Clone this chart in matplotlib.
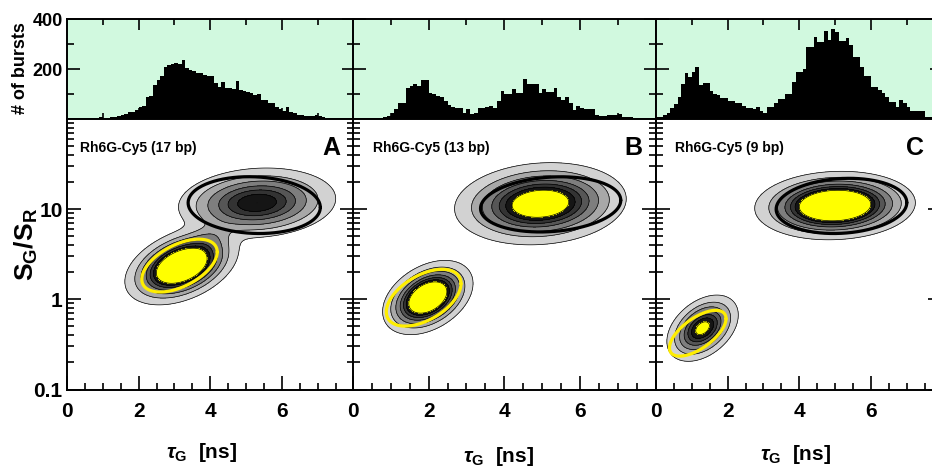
import numpy as np
import matplotlib
matplotlib.use("Agg")
import matplotlib.pyplot as plt
from matplotlib.ticker import MultipleLocator, FixedLocator, NullFormatter

plt.rcParams['font.family'] = ['Liberation Sans', 'DejaVu Sans']
plt.rcParams['font.weight'] = 'bold'
plt.rcParams['mathtext.fontset'] = 'custom'
plt.rcParams['mathtext.rm'] = 'Liberation Sans:bold'
plt.rcParams['mathtext.bf'] = 'Liberation Sans:bold'
plt.rcParams['mathtext.it'] = 'Liberation Sans:italic'

# burst lifetime histograms, 0.1 ns bins from 0 to 8 ns
tau_edges = np.round(np.arange(0, 8.05, 0.1), 2)

hist_A = [0, 0, 0, 0, 1, 1, 1, 2, 3, 6,
          3, 4, 6, 8, 12, 16, 20, 28, 30, 38,
          50, 52, 88, 92, 137, 157, 172, 210, 218, 221,
          226, 220, 237, 205, 198, 192, 186, 184, 178, 172,
          172, 145, 128, 150, 126, 124, 122, 154, 116, 114,
          108, 104, 98, 100, 78, 76, 64, 66, 50, 40,
          34, 48, 30, 24, 18, 15, 10, 10, 12, 16,
          10, 6, 4, 3, 2, 1, 1, 1, 0, 0]
hist_B = [2, 2, 2, 3, 3, 3, 4, 5, 8, 10,
          23, 39, 63, 63, 123, 133, 141, 134, 157, 157,
          103, 100, 92, 90, 72, 56, 47, 45, 43, 23,
          39, 20, 25, 43, 43, 48, 52, 43, 72, 114,
          100, 100, 119, 103, 103, 161, 141, 141, 141, 103,
          119, 110, 110, 123, 90, 76, 87, 63, 36, 52,
          43, 40, 40, 40, 16, 12, 12, 16, 16, 16,
          19, 9, 9, 9, 5, 3, 3, 2, 2, 1]
hist_C = [6, 8, 16, 25, 45, 60, 87, 141, 186, 170,
          190, 208, 137, 146, 143, 114, 100, 96, 83, 83,
          74, 74, 63, 63, 52, 43, 43, 39, 50, 34,
          25, 50, 47, 66, 80, 80, 100, 100, 150, 190,
          190, 200, 288, 288, 331, 307, 307, 355, 318, 362,
          351, 315, 315, 324, 298, 248, 248, 210, 173, 173,
          127, 127, 117, 103, 90, 70, 70, 50, 76, 66,
          47, 34, 34, 34, 34, 7, 7, 5, 4, 3]

# 2D burst populations: tau0, log10(SG/SR)0, sigma_tau, sigma_log, rho, peak
clusters_A = [(3.2, 0.37, 0.55, 0.150, 0.40, 50),
              (5.3, 1.07, 0.85, 0.150, 0.12, 22),
              (4.0, 0.68, 0.35, 0.100, 0.30, 3)]
clusters_B = [(1.98, 0.02, 0.42, 0.145, 0.38, 45),
              (4.95, 1.06, 0.83, 0.167, 0.12, 33)]
clusters_C = [(1.30, -0.32, 0.38, 0.140, 0.40, 25),
              (5.00, 1.04, 0.78, 0.132, 0.08, 50)]

# fitted population ellipses: tau0, log0, half-width tau, half-height log, tilt phase
yellow_ell = [(3.14, 0.374, 1.05, 0.293, 0.54),
              (1.87, 0.018, 0.985, 0.315, 0.52),
              (1.165, -0.376, 0.79, 0.254, 0.69)]
black_ell = [(5.22, 1.045, 1.84, 0.315, -0.08),
             (5.22, 1.053, 1.85, 0.306, 0.15),
             (5.18, 1.036, 1.825, 0.306, 0.12)]

titles = ["Rh6G-Cy5 (17 bp)", "Rh6G-Cy5 (13 bp)", "Rh6G-Cy5 (9 bp)"]
letters = ["A", "B", "C"]

levels = [0.8, 3, 6, 10, 14, 18, 22, 1e4]
fill_colors = ['#d2d2d2', '#a8a8a8', '#7e7e7e', '#565656', '#333333', '#151515', '#ffff00']
mint = '#d1f9df'


def density(clusters, T, S):
    Z = np.zeros_like(T)
    for t0, s0, st, ss, rho, amp in clusters:
        dx = (T - t0) / st
        dy = (S - s0) / ss
        q = (dx**2 - 2 * rho * dx * dy + dy**2) / (1 - rho**2)
        Z += amp * np.exp(-0.5 * q)
    return Z


def ellipse(ax, e, color):
    t0, s0, rt, rs, phi = e
    t = np.linspace(0, 2 * np.pi, 300)
    ax.plot(t0 + rt * np.cos(t), 10 ** (s0 + rs * np.sin(t + phi)),
            color=color, lw=2.3, solid_capstyle='round')


fig = plt.figure(figsize=(9.32, 4.69), dpi=100)

lefts = [0.0716, 0.3785, 0.7039]
widths = [0.3083, 0.3254, 0.3073]
hist_y, hist_h = 0.7463, 0.2125
main_y, main_h = 0.1695, 0.5768

tg = np.linspace(0, 8, 321)
sg = np.linspace(-1, 2, 301)
T, S = np.meshgrid(tg, sg)

all_hist = [hist_A, hist_B, hist_C]
all_clusters = [clusters_A, clusters_B, clusters_C]
title_x = [0.046, 0.067, 0.066]
letter_x = [0.92, 0.926, 0.904]

for i in range(3):
    # top: lifetime histogram
    axh = fig.add_axes([lefts[i], hist_y, widths[i], hist_h])
    axh.set_facecolor(mint)
    axh.bar(tau_edges[:-1], all_hist[i], width=0.1, align='edge', color='k', linewidth=0)
    axh.set_xlim(0, 8)
    axh.set_ylim(0, 400)
    axh.xaxis.set_major_locator(FixedLocator([2, 4, 6]))
    axh.xaxis.set_minor_locator(FixedLocator([1, 3, 5, 7]))
    axh.yaxis.set_major_locator(FixedLocator([200, 400]))
    axh.yaxis.set_minor_locator(FixedLocator([100, 300]))
    axh.tick_params(which='both', direction='in', top=True, bottom=True,
                    left=True, right=True, labelbottom=False, width=1.2)
    axh.tick_params(axis='x', which='major', length=8)
    axh.tick_params(axis='x', which='minor', length=4.5)
    axh.tick_params(axis='y', which='major', length=9)
    axh.tick_params(axis='y', which='minor', length=5)
    axh.tick_params(axis='y', labelsize=13, pad=3)
    if i > 0:
        axh.tick_params(labelleft=False)
    for sp in axh.spines.values():
        sp.set_linewidth(1.4)

    # bottom: SG/SR versus tau_G contour map
    ax = fig.add_axes([lefts[i], main_y, widths[i], main_h])
    Z = density(all_clusters[i], T, S)
    ax.contourf(T, 10 ** S, Z, levels=levels, colors=fill_colors)
    ax.contour(T, 10 ** S, Z, levels=levels[:-1], colors='k', linewidths=0.5)
    ellipse(ax, yellow_ell[i], '#ffee00')
    ellipse(ax, black_ell[i], 'k')
    ax.set_yscale('log')
    ax.set_xlim(0, 8)
    ax.set_ylim(0.1, 100)
    ax.set_xticks([0, 2, 4, 6])
    ax.xaxis.set_minor_locator(MultipleLocator(0.5))
    ax.set_yticks([0.1, 1, 10])
    ax.set_yticklabels(['0.1', '1', '10'])
    ax.yaxis.set_minor_locator(FixedLocator(
        [m * 10.0 ** d for d in (-1, 0, 1) for m in range(2, 10)]))
    ax.yaxis.set_minor_formatter(NullFormatter())
    ax.tick_params(which='both', direction='in', left=True, right=True,
                   top=False, width=1.2)
    ax.tick_params(which='major', length=10)
    ax.tick_params(which='minor', length=5)
    ax.tick_params(axis='y', labelsize=15, pad=3)
    ax.tick_params(axis='x', labelsize=15, pad=9)
    if i > 0:
        ax.tick_params(labelleft=False)
    for sp in ax.spines.values():
        sp.set_linewidth(1.4)

    ax.text(title_x[i], 0.893, titles[i], transform=ax.transAxes,
            fontsize=10, fontweight='bold', va='center', ha='left')
    ax.text(letter_x[i], 0.893, letters[i], transform=ax.transAxes,
            fontsize=18, fontweight='bold', va='center', ha='center')

for xc, yc in [(0.216, 0.036), (0.535, 0.026), (0.854, 0.031)]:
    fig.text(xc, yc, r'$\tau_{\rm G}$  [ns]', fontsize=15, ha='center', va='center')

fig.text(0.022, 0.855, '# of bursts', rotation=90, fontsize=13,
         ha='center', va='center')
fig.text(0.028, 0.478, r'$\mathbf{S_G/S_R}$', rotation=90, fontsize=19,
         ha='center', va='center')

fig.savefig('out.png', dpi=100)
